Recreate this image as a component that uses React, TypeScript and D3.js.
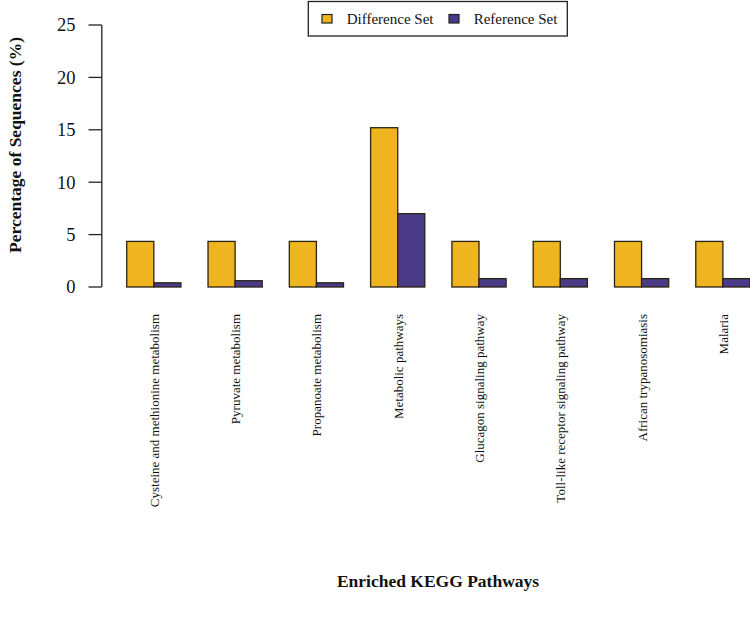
import React from "react";
import * as d3 from "d3";

const categories = [
  "Cysteine and methionine metabolism",
  "Pyruvate metabolism",
  "Propanoate metabolism",
  "Metabolic pathways",
  "Glucagon signaling pathway",
  "Toll-like receptor signaling pathway",
  "African trypanosomiasis",
  "Malaria",
];
const differenceSet = [4.35, 4.35, 4.35, 15.2, 4.35, 4.35, 4.35, 4.35];
const referenceSet = [0.4, 0.6, 0.4, 7.0, 0.8, 0.8, 0.8, 0.8];
const yTicks = [0, 5, 10, 15, 20, 25];
const seriesNames = ["Difference Set", "Reference Set"];
const colors = ["#EFB521", "#4A3B89"];

const W = 750;
const H = 622;
const FONT = "'Liberation Serif', 'Times New Roman', serif";

export default function App() {
  // R barplot-like unit coordinates: each group = space 1 + 2 bars
  const x = d3.scaleLinear().domain([0.08, 24.92]).range([101.8, 774.9]);
  const y = d3.scaleLinear().domain([0, 25]).range([287, 25]);
  const series = [differenceSet, referenceSet];

  return (
    <svg width={W} height={H} style={{ position: "absolute", left: 0, top: 0, background: "#fff" }} fontFamily={FONT}>
      {/* bars */}
      {categories.map((c, i) =>
        series.map((s, k) => {
          const u0 = i * 3 + 1 + k;
          return (
            <rect
              key={c + k}
              x={x(u0)}
              y={y(s[i])}
              width={x(u0 + 1) - x(u0)}
              height={y(0) - y(s[i])}
              fill={colors[k]}
              stroke="#2a2414"
              strokeWidth={1.3}
            />
          );
        })
      )}
      {/* y axis */}
      <line x1={101.8} x2={101.8} y1={y(0)} y2={y(25)} stroke="#222" strokeWidth={1.3} />
      {yTicks.map((t) => (
        <g key={t}>
          <line x1={88.5} x2={101.8} y1={y(t)} y2={y(t)} stroke="#222" strokeWidth={1.3} />
          <text x={75.5} y={y(t)} dy="0.35em" textAnchor="end" fontSize={18.5} fill="#111">
            {t}
          </text>
        </g>
      ))}
      {/* category labels */}
      {categories.map((c, i) => {
        const cx = x(i * 3 + 2);
        return (
          <text
            key={c}
            transform={`translate(${cx + 5},${314}) rotate(-90)`}
            textAnchor="end"
            fontSize={13}
            fill="#111"
          >
            {c}
          </text>
        );
      })}
      {/* axis titles */}
      <text x={438} y={587} textAnchor="middle" fontSize={17.5} fontWeight="bold" fill="#111">
        Enriched KEGG Pathways
      </text>
      <text
        transform={`translate(${21},${145}) rotate(-90)`}
        textAnchor="middle"
        fontSize={17.5}
        fontWeight="bold"
        fill="#111"
      >
        Percentage of Sequences (%)
      </text>
      {/* legend */}
      <rect x={308.3} y={1.5} width={259} height={34.5} fill="#fff" stroke="#222" strokeWidth={1.3} />
      {seriesNames.map((n, k) => {
        const lx = [322, 449][k];
        return (
          <g key={n}>
            <rect x={lx} y={14.5} width={10} height={8.5} fill={colors[k]} stroke="#222" strokeWidth={1.2} />
            <text x={lx + 24.7} y={19} dy="0.35em" fontSize={15} fill="#111">
              {n}
            </text>
          </g>
        );
      })}
    </svg>
  );
}
